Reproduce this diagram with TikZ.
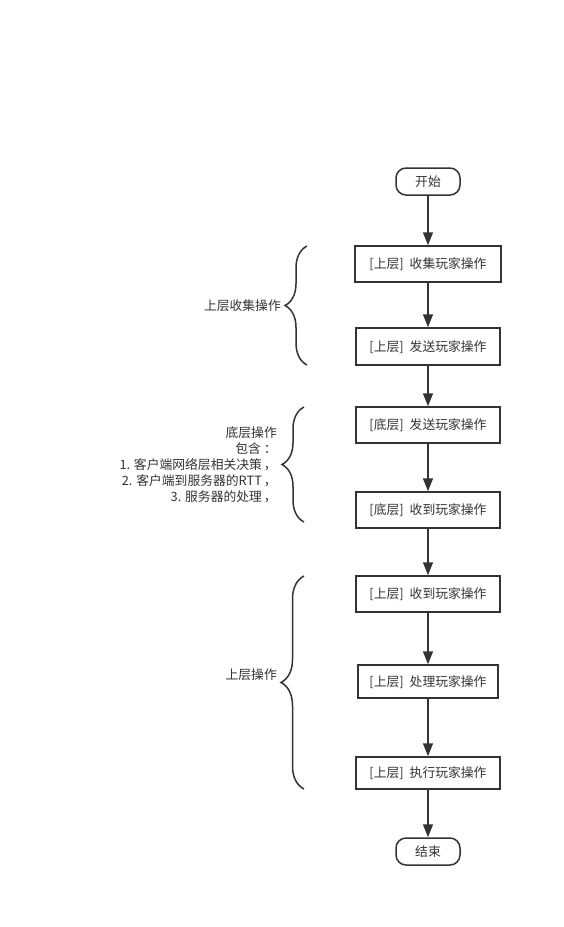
\documentclass[tikz,border=0pt]{standalone}
\usepackage{fontspec}
\newfontfamily\cjkfont{Noto Sans CJK SC}
\usepackage{xcolor}
\usepackage{tikz}
\usetikzlibrary{arrows.meta,positioning,decorations.pathreplacing}
\definecolor{linegray}{HTML}{333333}

\begin{document}
\begin{tikzpicture}[x=1pt, y=-1pt,
            every node/.style={font=\cjkfont\fontsize{12.8}{16}\selectfont, text=linegray},
            stepbox/.style={draw=linegray, line width=1.5pt, fill=white, align=center,
                    minimum width=146pt, minimum height=36pt, inner sep=2pt, text depth=1pt},
            term/.style={draw=linegray, line width=1.5pt, fill=white, rounded corners=10pt,
                    minimum width=64pt, minimum height=27pt, inner sep=2pt, text depth=1pt},
            flow/.style={-{Triangle[length=13pt, width=10pt]}, draw=linegray, line width=1.5pt},
            brc/.style={draw=linegray, line width=1.5pt, decorate,
                    decoration={brace, amplitude=22pt}},
            lbl/.style={anchor=east, align=right, inner sep=0pt}
        ]
        \useasboundingbox (0,0) rectangle (563,927);

        % ================= alur utama =================
        \node[term]    (start) at (428,181.5) {开始};
        \node[stepbox] (collect) at (428,264) {[上层]\hspace{6pt}收集玩家操作};
        \node[stepbox, minimum width=144pt, minimum height=37pt] (sendup) at (428,346.5) {[上层]\hspace{6pt}发送玩家操作};
        \node[stepbox, minimum width=144pt] (sendlow) at (428,425) {[底层]\hspace{6pt}发送玩家操作};
        \node[stepbox, minimum width=144pt] (recvlow) at (428,510) {[底层]\hspace{6pt}收到玩家操作};
        \node[stepbox, minimum width=144pt] (recvup) at (428,594) {[上层]\hspace{6pt}收到玩家操作};
        \node[stepbox, minimum width=140pt, minimum height=33pt] (proc) at (428,681.5) {[上层]\hspace{6pt}处理玩家操作};
        \node[stepbox, minimum width=144pt, minimum height=32pt] (exec) at (428,773) {[上层]\hspace{6pt}执行玩家操作};
        \node[term, minimum width=64pt] (stop) at (428,851.5) {结束};

        \draw[flow] (start) -- (collect);
        \draw[flow] (collect) -- (sendup);
        \draw[flow] (sendup) -- (sendlow);
        \draw[flow] (sendlow) -- (recvlow);
        \draw[flow] (recvlow) -- (recvup);
        \draw[flow] (recvup) -- (proc);
        \draw[flow] (proc) -- (exec);
        \draw[flow] (exec) -- (stop);

        % ================= kurung kurawal =================
        \coordinate (b1bot) at (307,365);  \coordinate (b1top) at (307,246);
        \coordinate (b2bot) at (304,522);  \coordinate (b2top) at (304,407);
        \coordinate (b3bot) at (304,789);  \coordinate (b3top) at (304,576);
        \draw[brc] (b1bot) -- (b1top);
        \draw[brc] (b2bot) -- (b2top);
        \draw[brc, decoration={brace, amplitude=23pt}] (b3bot) -- (b3top);

        % ================= keterangan =================
        \node[lbl] (lblcollect) at (281,306) {上层收集操作};
        \node[lbl] (lbllow) at (277,465)
        {底层操作\\包含\hspace{3pt}：\hspace{3pt}\\1. 客户端网络层相关决策\hspace{2pt}，\\2. 客户端到服务器的RTT\hspace{2pt}，\\3. 服务器的处理\hspace{2pt}，};
        \node[lbl] (lblup) at (277,675) {上层操作};

    \end{tikzpicture}
\end{document}
